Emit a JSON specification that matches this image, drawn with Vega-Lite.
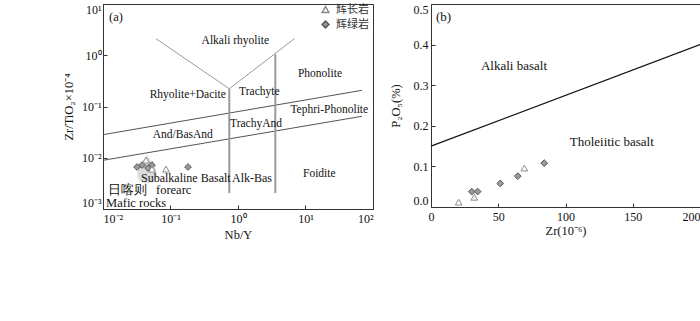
{
  "$schema": "https://vega.github.io/schema/vega-lite/v6.json",
  "padding": {"left": 61, "top": 2, "right": 0, "bottom": 0},
  "autosize": {"type": "pad"},
  "background": "white",
  "config": {
    "font": "Liberation Serif",
    "view": {"stroke": "#333333", "strokeWidth": 1},
    "axis": {
      "grid": false,
      "domainColor": "#333333",
      "tickColor": "#333333",
      "tickSize": -4,
      "labelFont": "Liberation Serif",
      "titleFont": "Liberation Serif",
      "labelFontSize": 12,
      "titleFontSize": 12.5,
      "titleFontWeight": "normal",
      "labelColor": "#111111",
      "titleColor": "#111111"
    },
    "legend": {
      "labelFont": "Noto Sans CJK SC",
      "labelFontSize": 11,
      "labelColor": "#333333",
      "symbolSize": 45,
      "padding": 0,
      "rowPadding": 2,
      "labelOffset": 5
    }
  },
  "datasets": {
    "blob": [{"nb": 0.045, "zr": 0.006}],
    "slopes": [
      {"seg": "s1", "o": 1, "nb": 0.01, "zr": 0.0282},
      {"seg": "s1", "o": 2, "nb": 68.7, "zr": 0.207},
      {"seg": "s2", "o": 1, "nb": 0.01, "zr": 0.00891},
      {"seg": "s2", "o": 2, "nb": 68.7, "zr": 0.0644}
    ],
    "arms": [
      {"seg": "v", "o": 1, "nb": 0.061, "zr": 2.1},
      {"seg": "v", "o": 2, "nb": 0.743, "zr": 0.222},
      {"seg": "v", "o": 3, "nb": 6.83, "zr": 2.1}
    ],
    "verts": [
      {"seg": "a", "o": 1, "nb": 0.743, "zr": 0.222},
      {"seg": "a", "o": 2, "nb": 0.743, "zr": 0.00205},
      {"seg": "b", "o": 1, "nb": 3.57, "zr": 1.04},
      {"seg": "b", "o": 2, "nb": 3.57, "zr": 0.00205}
    ],
    "pts_a": [
      {"rock": "辉绿岩", "nb": 0.0319, "zr": 0.0066},
      {"rock": "辉绿岩", "nb": 0.0379, "zr": 0.0072},
      {"rock": "辉绿岩", "nb": 0.0464, "zr": 0.0063},
      {"rock": "辉绿岩", "nb": 0.0532, "zr": 0.0072},
      {"rock": "辉绿岩", "nb": 0.1816, "zr": 0.0066},
      {"rock": "辉长岩", "nb": 0.0434, "zr": 0.009},
      {"rock": "辉长岩", "nb": 0.0532, "zr": 0.006},
      {"rock": "辉长岩", "nb": 0.0858, "zr": 0.006}
    ],
    "labs_a_c": [
      {"label": "Alkali rhyolite", "nb": 0.912, "zr": 1.87},
      {"label": "Phonolite", "nb": 16.4, "zr": 0.436},
      {"label": "Rhyolite+Dacite", "nb": 0.18, "zr": 0.17},
      {"label": "Trachyte", "nb": 2.07, "zr": 0.192},
      {"label": "Tephri-Phonolite", "nb": 22.5, "zr": 0.0844},
      {"label": "TrachyAnd", "nb": 1.85, "zr": 0.0461},
      {"label": "And/BasAnd", "nb": 0.152, "zr": 0.0282},
      {"label": "Foidite", "nb": 16.0, "zr": 0.00475}
    ],
    "labs_a_l": [
      {"label": "Subalkaline Basalt", "nb": 0.0366, "zr": 0.0041},
      {"label": "Alk-Bas", "nb": 0.815, "zr": 0.0041}
    ],
    "labs_a_big": [
      {"label": "(a)", "nb": 0.0123, "zr": 5.57},
      {"label": "日喀则\u00a0\u00a0\u00a0forearc", "nb": 0.0117, "zr": 0.00238},
      {"label": "Mafic rocks", "nb": 0.0111, "zr": 0.00133}
    ],
    "line_b": [
      {"zrb": 0, "p": 0.15},
      {"zrb": 200, "p": 0.4}
    ],
    "pts_b": [
      {"rock": "辉长岩", "zrb": 20.6, "p": 0.012},
      {"rock": "辉长岩", "zrb": 32.2, "p": 0.024},
      {"rock": "辉长岩", "zrb": 69.4, "p": 0.096},
      {"rock": "辉绿岩", "zrb": 30.3, "p": 0.038},
      {"rock": "辉绿岩", "zrb": 34.7, "p": 0.038},
      {"rock": "辉绿岩", "zrb": 51.5, "p": 0.058},
      {"rock": "辉绿岩", "zrb": 64.5, "p": 0.076},
      {"rock": "辉绿岩", "zrb": 84.2, "p": 0.108}
    ],
    "labs_b": [
      {"label": "Alkali basalt", "zrb": 61.7, "p": 0.348},
      {"label": "Tholeiitic basalt", "zrb": 134.4, "p": 0.16}
    ],
    "labs_b_l": [
      {"label": "(b)", "zrb": 3.7, "p": 0.468}
    ]
  },
  "bounds": "flush",
  "spacing": 58,
  "hconcat": [
    {
      "width": 270,
      "height": 205,
      "encoding": {
        "x": {
          "field": "nb", "type": "quantitative",
          "scale": {"type": "log", "domain": [0.01, 100], "nice": false},
          "axis": {
            "title": "Nb/Y",
            "values": [0.01, 0.1, 1, 10, 100],
            "labelExpr": "datum.value < 0.05 ? '10⁻²' : datum.value < 0.5 ? '10⁻¹' : datum.value < 5 ? '10⁰' : datum.value < 50 ? '10¹' : '10²'",
            "labelPadding": 8,
            "titlePadding": 4
          }
        },
        "y": {
          "field": "zr", "type": "quantitative",
          "scale": {"type": "log", "domain": [0.001, 10], "nice": false},
          "axis": {
            "title": "Zr/TiO₂×10⁻⁴",
            "values": [0.001, 0.01, 0.1, 1, 10],
            "labelExpr": "datum.value < 0.005 ? '10⁻³' : datum.value < 0.05 ? '10⁻²' : datum.value < 0.5 ? '10⁻¹' : datum.value < 5 ? '10⁰' : '10¹'",
            "labelFlush": true,
            "labelPadding": 6,
            "titlePadding": 6
          }
        }
      },
      "layer": [
        {
          "data": {"name": "blob"},
          "mark": {"type": "point", "shape": "M0,-1C0.35,-0.5 0.7,-0.05 0.7,0.4C0.7,0.8 0.38,1 0,1C-0.38,1 -0.7,0.8 -0.7,0.4C-0.7,-0.05 -0.35,-0.5 0,-1Z", "filled": true, "fill": "#dcdcdc", "strokeWidth": 0, "opacity": 1, "size": 784},
          "encoding": {}
        },
        {
          "data": {"name": "slopes"},
          "mark": {"type": "line", "color": "#555555", "strokeWidth": 1},
          "encoding": {"detail": {"field": "seg"}, "order": {"field": "o"}}
        },
        {
          "data": {"name": "arms"},
          "mark": {"type": "line", "color": "#9a9a9a", "strokeWidth": 1},
          "encoding": {"detail": {"field": "seg"}, "order": {"field": "o"}}
        },
        {
          "data": {"name": "verts"},
          "mark": {"type": "line", "color": "#9a9a9a", "strokeWidth": 2},
          "encoding": {"detail": {"field": "seg"}, "order": {"field": "o"}}
        },
        {
          "data": {"name": "pts_a"},
          "mark": {"type": "point", "filled": true, "size": 45, "strokeWidth": 1, "opacity": 1},
          "encoding": {
            "shape": {"field": "rock", "type": "nominal", "scale": {"domain": ["辉长岩", "辉绿岩"], "range": ["triangle-up", "diamond"]}, "legend": {"title": null, "orient": "none", "legendX": 217, "legendY": 0}},
            "fill": {"field": "rock", "type": "nominal", "scale": {"domain": ["辉长岩", "辉绿岩"], "range": ["#ffffff", "#9a9a9a"]}, "legend": {"title": null, "orient": "none", "legendX": 217, "legendY": 0}},
            "stroke": {"field": "rock", "type": "nominal", "scale": {"domain": ["辉长岩", "辉绿岩"], "range": ["#8a8a8a", "#555555"]}, "legend": {"title": null, "orient": "none", "legendX": 217, "legendY": 0}}
          }
        },
        {
          "data": {"name": "labs_a_c"},
          "mark": {"type": "text", "fontSize": 11.5, "color": "#111111", "align": "center", "baseline": "middle"},
          "encoding": {"text": {"field": "label"}}
        },
        {
          "data": {"name": "labs_a_l"},
          "mark": {"type": "text", "fontSize": 12, "color": "#111111", "align": "left", "baseline": "middle"},
          "encoding": {"text": {"field": "label"}}
        },
        {
          "data": {"name": "labs_a_big"},
          "mark": {"type": "text", "fontSize": 12.5, "color": "#111111", "align": "left", "baseline": "middle", "font": "Liberation Serif"},
          "encoding": {"text": {"field": "label"}}
        }
      ]
    },
    {
      "width": 269,
      "height": 203,
      "encoding": {
        "x": {
          "field": "zrb", "type": "quantitative",
          "scale": {"domain": [0, 200], "nice": false},
          "axis": {
            "title": "Zr(10⁻⁶)",
            "values": [0, 50, 100, 150, 200],
            "format": "d",
            "labelPadding": 8,
            "titlePadding": 2,
            "labelAlign": {"condition": {"test": "datum.value == 200", "value": "right"}, "value": "center"}
          }
        },
        "y": {
          "field": "p", "type": "quantitative",
          "scale": {"domain": [0, 0.5], "nice": false},
          "axis": {
            "title": "P₂O₅(%)",
            "values": [0, 0.1, 0.2, 0.3, 0.4, 0.5],
            "format": ".1f",
            "labelFlush": true,
            "labelPadding": 7,
            "titlePadding": 11
          }
        }
      },
      "layer": [
        {
          "data": {"name": "line_b"},
          "mark": {"type": "line", "color": "#111111", "strokeWidth": 1.2},
          "encoding": {}
        },
        {
          "data": {"name": "pts_b"},
          "mark": {"type": "point", "filled": true, "size": 45, "strokeWidth": 1, "opacity": 1},
          "encoding": {
            "shape": {"field": "rock", "type": "nominal", "scale": {"domain": ["辉长岩", "辉绿岩"], "range": ["triangle-up", "diamond"]}, "legend": {"title": null, "orient": "none", "legendX": 217, "legendY": 0}},
            "fill": {"field": "rock", "type": "nominal", "scale": {"domain": ["辉长岩", "辉绿岩"], "range": ["#ffffff", "#9a9a9a"]}, "legend": {"title": null, "orient": "none", "legendX": 217, "legendY": 0}},
            "stroke": {"field": "rock", "type": "nominal", "scale": {"domain": ["辉长岩", "辉绿岩"], "range": ["#8a8a8a", "#555555"]}, "legend": {"title": null, "orient": "none", "legendX": 217, "legendY": 0}}
          }
        },
        {
          "data": {"name": "labs_b"},
          "mark": {"type": "text", "fontSize": 13, "color": "#111111", "align": "center", "baseline": "middle"},
          "encoding": {"text": {"field": "label"}}
        },
        {
          "data": {"name": "labs_b_l"},
          "mark": {"type": "text", "fontSize": 13, "color": "#111111", "align": "left", "baseline": "middle"},
          "encoding": {"text": {"field": "label"}}
        }
      ]
    }
  ]
}
